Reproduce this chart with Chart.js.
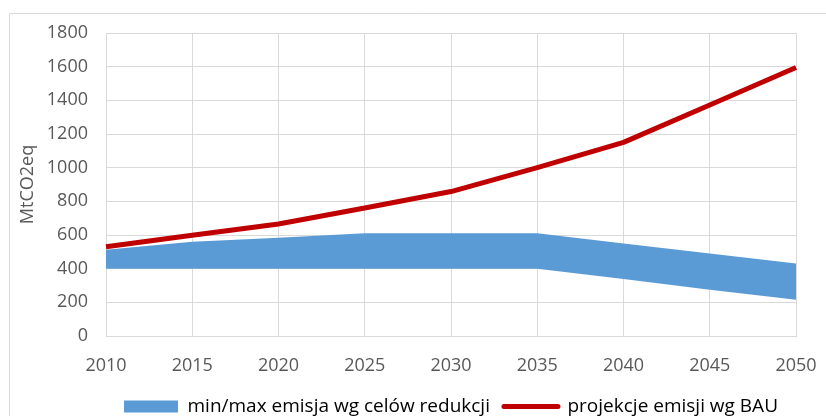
<!DOCTYPE html>
<html>
<head>
<meta charset="utf-8">
<script src="https://cdn.jsdelivr.net/npm/chart.js@4/dist/chart.umd.min.js"></script>
<style>
  html, body { margin: 0; padding: 0; background: #fff; }
  #wrap { position: relative; width: 826px; height: 416px; }
</style>
</head>
<body>
<div id="wrap"><canvas id="myChart" width="826" height="416"></canvas></div>
<script>
// Données
const years = ['2010', '2015', '2020', '2025', '2030', '2035', '2040', '2045', '2050'];
const emisjaMax = [512, 560, 584, 610, 610, 610, 550, 490, 430];
const emisjaMin = [400, 400, 400, 400, 400, 400, 338, 275, 215];
const bau = [530, 598, 665, 760, 858, 1000, 1150, 1372, 1595];

const fontFam = "'Open Sans', 'Liberation Sans', sans-serif";
const textColor = '#595959';
const gridColor = '#d9d9d9';

// Cadre extérieur (bord gauche + haut) et décalage de la légende vers le bas
const frame = {
    id: 'frame',
    afterLayout(chart) {
        chart.legend.top += 10;
        chart.legend.bottom += 10;
    },
    beforeDraw(chart) {
        const ctx = chart.ctx;
        ctx.save();
        ctx.strokeStyle = gridColor;
        ctx.lineWidth = 1;
        ctx.beginPath();
        ctx.moveTo(9.5, 416);
        ctx.lineTo(9.5, 13.5);
        ctx.lineTo(826, 13.5);
        ctx.stroke();
        ctx.restore();
    }
};

const ctx = document.getElementById('myChart').getContext('2d');
const myChart = new Chart(ctx, {
    type: 'line',
    data: {
        labels: years,
        datasets: [
            {
                label: 'min/max emisja wg celów redukcji',
                data: emisjaMax,
                borderWidth: 0,
                pointRadius: 0,
                backgroundColor: '#5b9bd5',
                fill: '+1',
                tension: 0,
                order: 2
            },
            {
                label: 'min',
                data: emisjaMin,
                borderWidth: 0,
                pointRadius: 0,
                fill: false,
                tension: 0,
                order: 2
            },
            {
                label: 'projekcje emisji wg BAU',
                data: bau,
                borderColor: '#c00000',
                borderWidth: 5,
                pointRadius: 0,
                fill: false,
                tension: 0,
                borderJoinStyle: 'round',
                order: 1
            }
        ]
    },
    options: {
        responsive: false,
        animation: false,
        layout: { padding: { left: 0, right: 30, top: 33, bottom: 0 } },
        plugins: {
            tooltip: { enabled: false },
            legend: {
                position: 'bottom',
                fullSize: false,
                labels: {
                    color: textColor,
                    font: { family: fontFam, size: 19 },
                    boxWidth: 54,
                    boxHeight: 12,
                    usePointStyle: true,
                    pointStyleWidth: 54,
                    padding: 14,
                    generateLabels: () => [
                        { text: 'min/max emisja wg celów redukcji', fillStyle: '#5b9bd5', strokeStyle: '#5b9bd5', lineWidth: 0, pointStyle: 'rect', datasetIndex: 0 },
                        { text: 'projekcje emisji wg BAU', fillStyle: '#c00000', strokeStyle: '#c00000', lineWidth: 5, lineCap: 'round', pointStyle: 'line', datasetIndex: 2 }
                    ]
                }
            }
        },
        scales: {
            x: {
                grid: { color: gridColor, drawTicks: false },
                border: { color: gridColor },
                ticks: { color: textColor, font: { family: fontFam, size: 18 }, padding: 19, maxRotation: 0 },
                afterFit: (s) => { s.height = 37; s.paddingRight = 0; s.paddingLeft = 0; }
            },
            y: {
                min: 0,
                max: 1800,
                grid: { color: gridColor, drawTicks: false },
                border: { color: gridColor },
                ticks: { stepSize: 200, color: textColor, font: { family: fontFam, size: 18 }, padding: 18, callback: (v) => String(v) },
                title: { display: true, text: 'MtCO2eq', color: textColor, font: { family: fontFam, size: 18 }, padding: { top: 17, bottom: 4 } },
                afterFit: (s) => { s.width = 106; }
            }
        }
    },
    plugins: [frame]
});
</script>
</body>
</html>
